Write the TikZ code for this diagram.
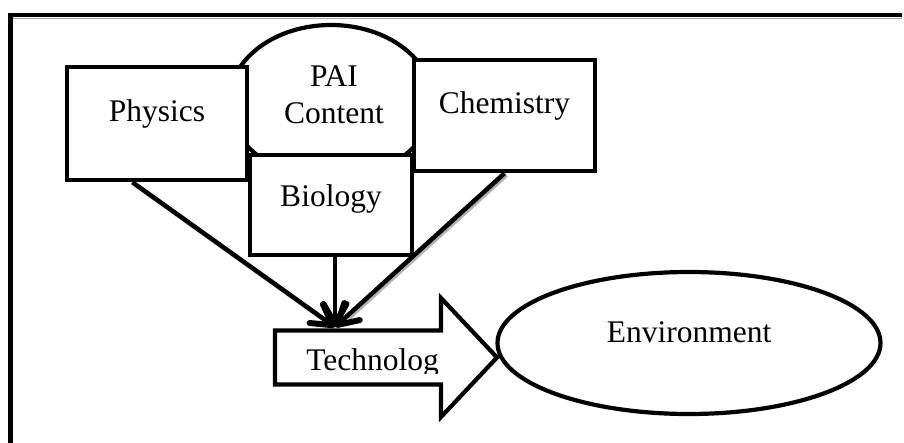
\documentclass[tikz,border=0pt]{standalone}
\usepackage{fontspec}
\setmainfont{Liberation Serif}
\usetikzlibrary{arrows.meta,shapes.geometric,calc}
\begin{document}
\begin{tikzpicture}[x=1pt,y=-1pt,
  every node/.style={font=\fontsize{31.5}{37}\selectfont},
  box/.style={draw, line width=4.5pt, fill=white, inner sep=0pt},
  oval/.style={draw, ellipse, line width=4.2pt, fill=white, inner sep=0pt},
  txt/.style={text height=0.7em, text depth=0.25em, inner sep=0pt},
  conn/.style={line width=4.5pt, -{Straight Barb[length=20pt,width=23pt,line width=6pt,round]}},
  shadowline/.style={line width=4.5pt, draw=black!30, transform canvas={shift={(1.8pt,-1.8pt)}}}
]
\useasboundingbox (0,0) rectangle (904,443);
\fill[white] (0,0) rectangle (904,443);
% frame
\draw[black!35, line width=1pt] (12,18.5) -- (902,18.5);
\draw[line width=4.5pt] (10.5,15) -- (902,15);
\draw[line width=4.5pt] (10.5,12.75) -- (10.5,443);
% PAI content
\node[oval, minimum width=204pt, minimum height=154pt,
  label={[align=center, inner sep=0pt, xshift=3pt, yshift=7.5pt]center:PAI\\Content}] (pai) at (331,102) {};
% boxes
\node[box, minimum width=180pt, minimum height=113pt,
  label={[txt, yshift=4.5pt]center:Physics}] (phys) at (157,123.5) {};
\node[box, minimum width=181pt, minimum height=111pt,
  label={[txt, yshift=4.5pt]center:Chemistry}] (chem) at (504.5,115.5) {};
\node[box, minimum width=162pt, minimum height=100pt,
  label={[txt, yshift=1pt]center:Biology}] (biol) at (331,205) {};
% technology arrow
\draw[line width=4.2pt, fill=white, line join=miter]
  (275,330.5) -- (441,330.5) -- (441,298) -- (497,357.5) -- (441,417) -- (441,384.5) -- (275,384.5) -- cycle;
\begin{scope}
  \clip (275,330) rectangle (441,373);
  \node[txt] (tech) at (372.5,368) {Technolog};
\end{scope}
% environment
\node[oval, minimum width=383pt, minimum height=142pt,
  label={[txt, yshift=3pt]center:Environment}] (env) at (689,343) {};
% connectors
\coordinate (tgt) at (335,327);
\coordinate (physout) at ($(phys.south west)!0.367!(phys.south east)$);
\draw[shadowline] (physout) -- ($(physout)!0.93!(tgt)$);
\draw[shadowline] (chem.south) -- ($(chem.south)!0.93!(tgt)$);
\draw[conn] (physout) -- (tgt);
\draw[conn] (biol.south -| tgt) -- (tgt);
\draw[conn] (chem.south) -- (tgt);
\end{tikzpicture}
\end{document}
